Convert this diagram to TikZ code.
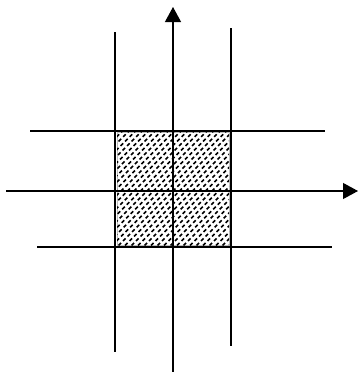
\documentclass[tikz,border=0pt]{standalone}
\usetikzlibrary{arrows.meta}

\begin{document}
\begin{tikzpicture}[
    x=1pt, y=-1pt,
    gridline/.style={black, line width=1.1pt},
    axis/.style={black, line width=1.1pt, -{Triangle[length=15pt, width=16pt]}},
    hatch/.style={black, line width=1.6pt, dash pattern=on 3.6pt off 2.8pt}
]
    \useasboundingbox (0,0) rectangle (358,372);
    % shaded square
    \coordinate (sqa) at (117,132);
    \coordinate (sqb) at (229,245);
    \draw[gray!50, line width=0.6pt] (sqa) rectangle (sqb);
    \begin{scope}
        \clip (sqa) rectangle (sqb);
        \foreach \k in {0,6.5,...,240}
            \draw[hatch] (117+\k-120,250) -- (117+\k,130);
    \end{scope}
    % grid lines
    \coordinate (ltop) at (115,32);   \coordinate (lbot) at (115,352);
    \coordinate (rtop) at (231,28);   \coordinate (rbot) at (231,346);
    \coordinate (tl) at (30,131);     \coordinate (tr) at (325,131);
    \coordinate (bl) at (37,247);     \coordinate (br) at (332,247);
    \draw[gridline] (ltop) -- (lbot);
    \draw[gridline] (rtop) -- (rbot);
    \draw[gridline] (tl) -- (tr);
    \draw[gridline] (bl) -- (br);
    % axes
    \coordinate (xs) at (6,191);      \coordinate (xe) at (358,191);
    \coordinate (ys) at (173,372);    \coordinate (ye) at (173,7);
    \draw[axis] (xs) -- (xe);
    \draw[axis] (ys) -- (ye);
\end{tikzpicture}
\end{document}
